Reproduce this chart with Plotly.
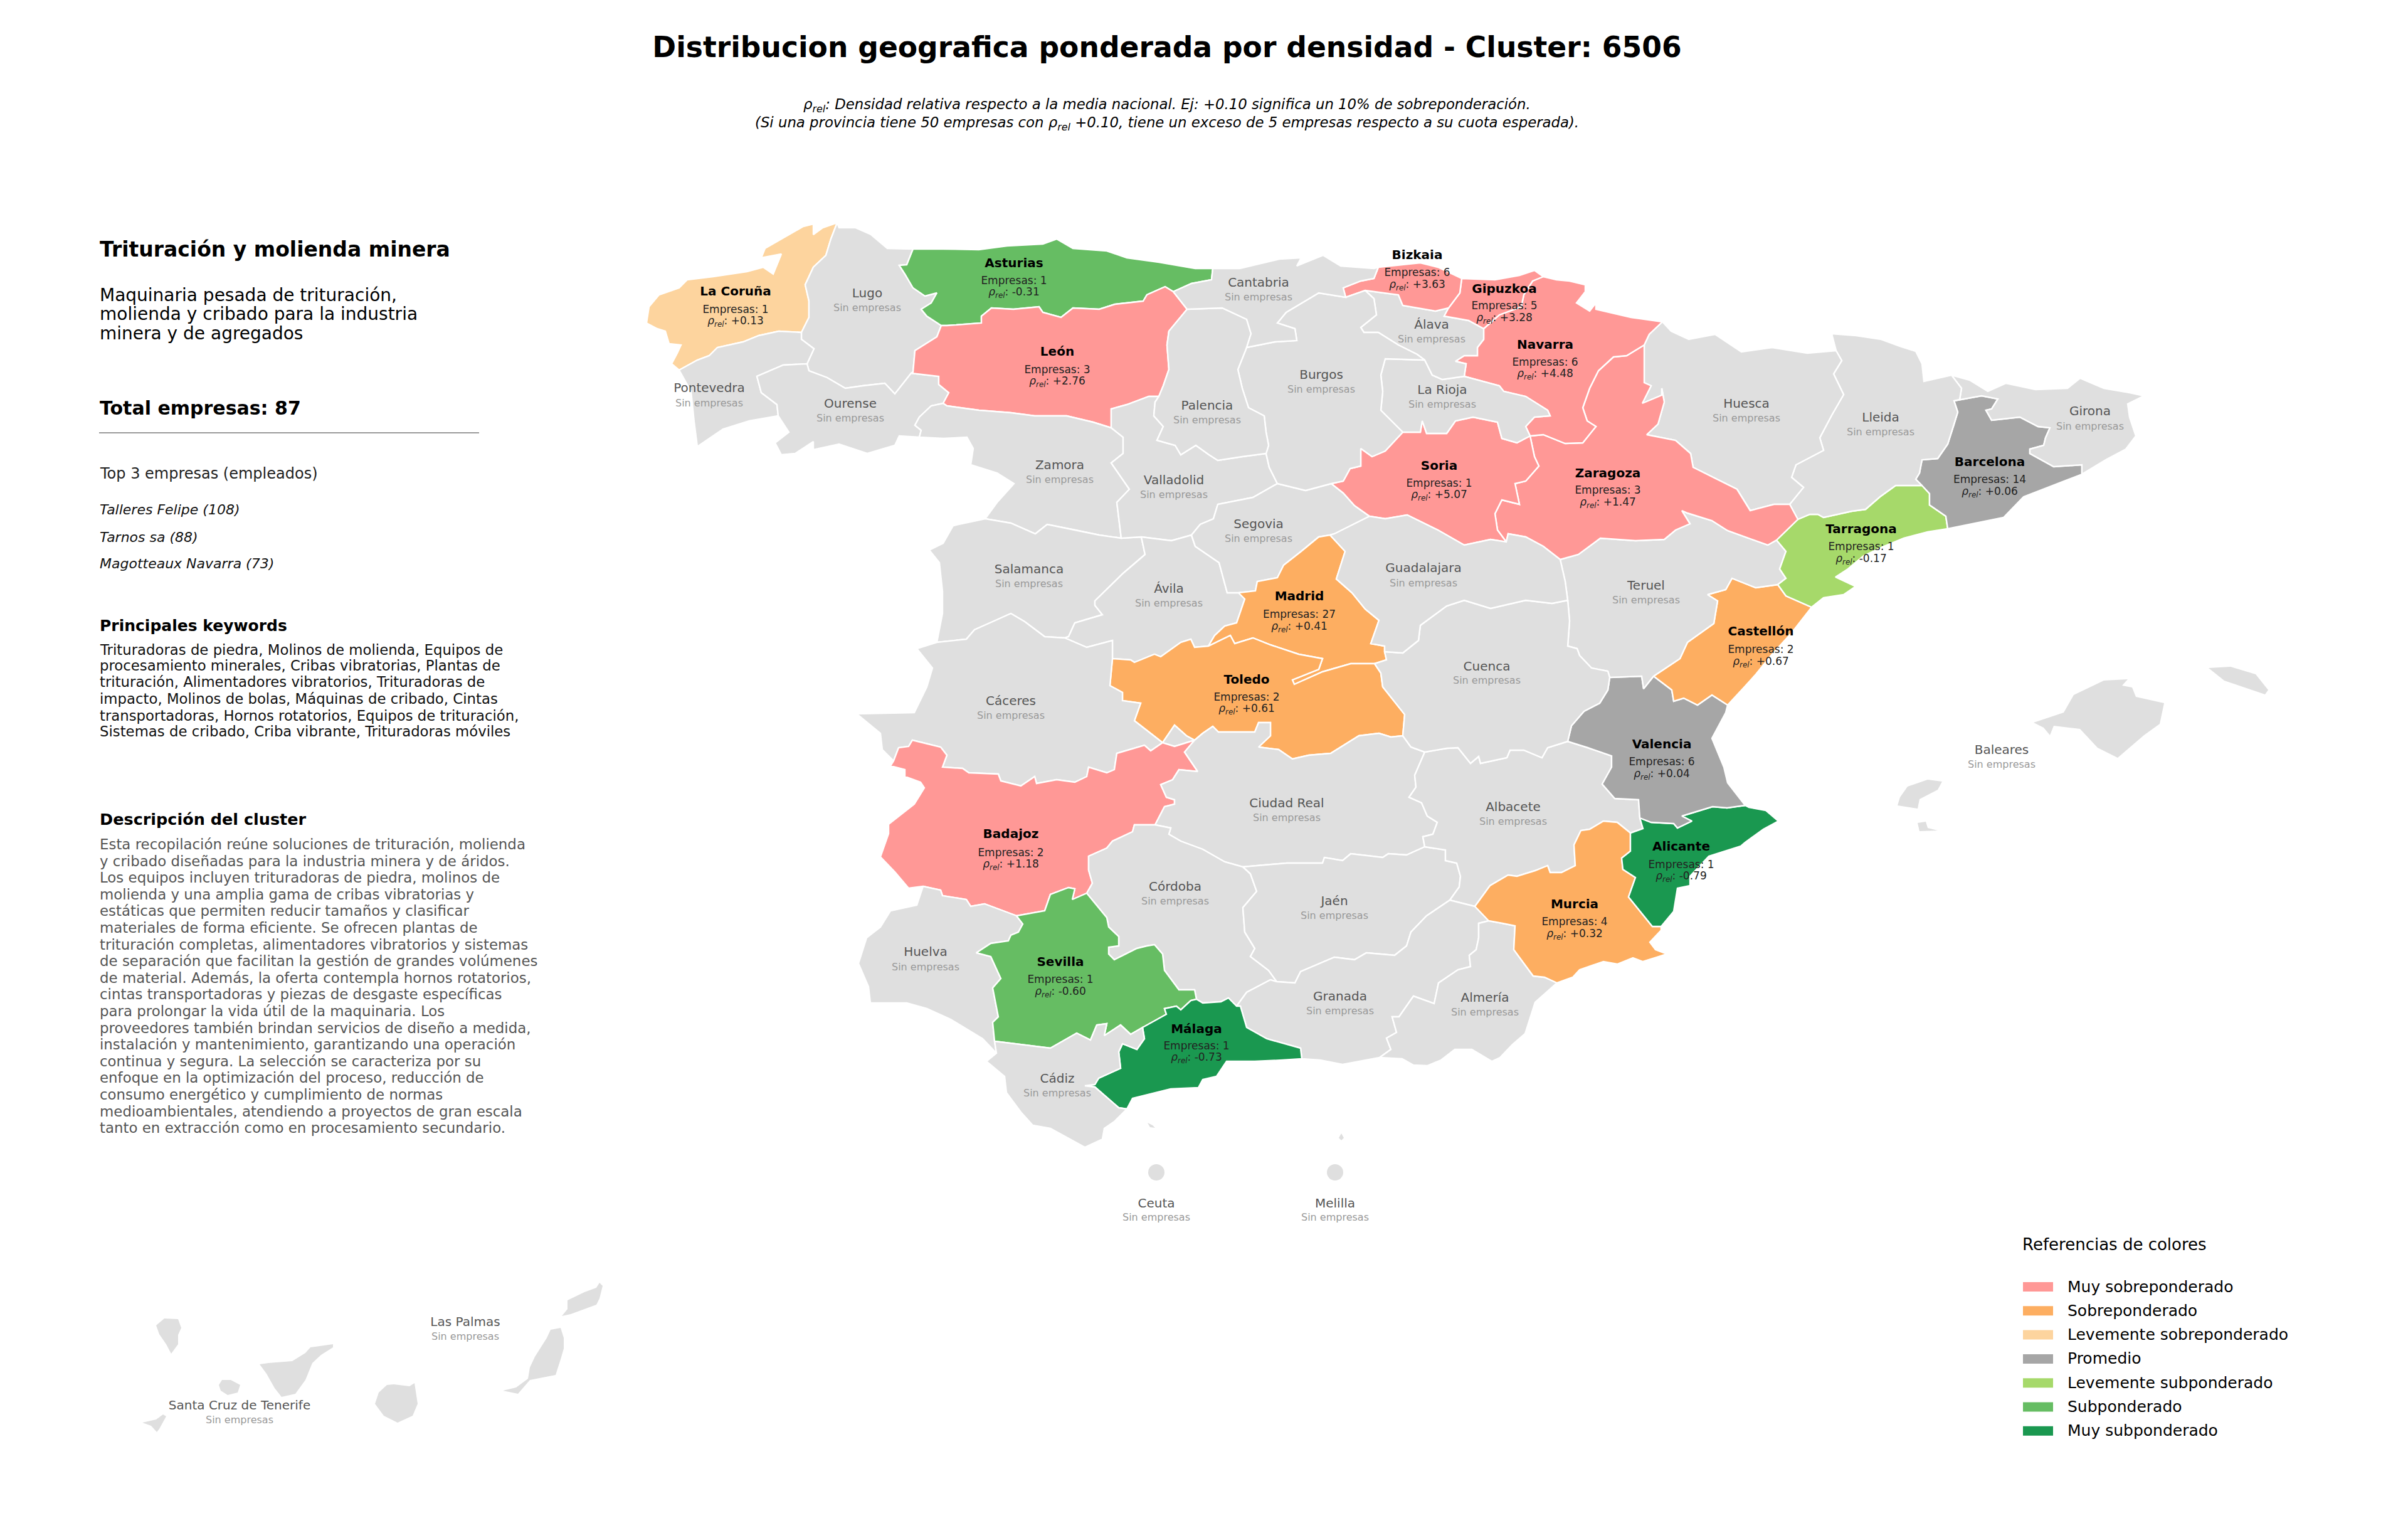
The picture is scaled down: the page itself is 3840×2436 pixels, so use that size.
import plotly.graph_objects as go

# ---------- data ----------
TITLE = "Distribucion geografica ponderada por densidad - Cluster: 6506"
SUB_LINES = ["<i>ρ<sub>rel</sub>: Densidad relativa respecto a la media nacional. Ej: +0.10 significa un 10% de sobreponderación.</i>",
             "<i>(Si una provincia tiene 50 empresas con ρ<sub>rel</sub> +0.10, tiene un exceso de 5 empresas respecto a su cuota esperada).</i>"]
CATEGORIES = ["Muy sobreponderado", "Sobreponderado", "Levemente sobreponderado", "Promedio",
              "Levemente subponderado", "Subponderado", "Muy subponderado"]
CAT_COLORS = ["#FF9896", "#FDAE61", "#FDD49E", "#A6A6A6", "#A6D96A", "#66BD63", "#1A9850"]
EMPTY_COLOR = "#DFDFDF"

# provincia: (empresas, rho, categoria index)
ACTIVE = {
    "La Coruña": (1, 0.13, 2), "Asturias": (1, -0.31, 5), "León": (3, 2.76, 0), "Bizkaia": (6, 3.63, 0),
    "Gipuzkoa": (5, 3.28, 0), "Navarra": (6, 4.48, 0), "Soria": (1, 5.07, 0), "Zaragoza": (3, 1.47, 0),
    "Barcelona": (14, 0.06, 3), "Tarragona": (1, -0.17, 4), "Madrid": (27, 0.41, 1), "Toledo": (2, 0.61, 1),
    "Castellón": (2, 0.67, 1), "Valencia": (6, 0.04, 3), "Badajoz": (2, 1.18, 0), "Alicante": (1, -0.79, 6),
    "Murcia": (4, 0.32, 1), "Sevilla": (1, -0.60, 5), "Málaga": (1, -0.73, 6),
}

# Outline pieces, in map units
C = {
 "cor_lug": [(1335,355),(1325,381),(1317,407),(1297,426),(1284,454),(1290,480),(1290,506),(1278,530)],
 "cor_pon": [(1278,530),(1242,528),(1210,535),(1185,545),(1144,554),(1131,567),(1112,574),(1083,590)],
 "cor_coast": [(1083,590),(1071,580),(1080,563),(1086,550),(1067,548),(1061,528),(1048,524),(1031,515),(1035,489),(1051,470),(1083,459),(1096,446),(1137,441),(1191,433),(1217,426),(1233,437),(1246,405),(1214,411),(1220,396),(1255,376),(1281,361),(1297,357),(1297,374),(1312,363),(1335,355)],
 "lug_coast": [(1335,355),(1338,363),(1364,363),(1389,374),(1415,396),(1456,397)],
 "lug_ast": [(1456,397),(1446,422),(1434,423),(1443,437),(1456,459),(1475,472),(1494,467),(1485,483),(1469,493),(1478,504),(1501,519)],
 "lug_leo": [(1501,519),(1494,537),(1459,559),(1456,593),(1453,595)],
 "lug_our": [(1453,595),(1427,628),(1411,611),(1376,615),(1348,619),(1319,602),(1290,591),(1287,580)],
 "lug_pon": [(1287,580),(1298,556),(1278,541),(1278,530)],
 "pon_our": [(1287,580),(1249,582),(1207,600),(1214,626),(1239,645),(1241,663)],
 "pon_port": [(1241,663),(1195,671),(1153,684),(1112,712)],
 "pon_coast": [(1112,712),(1107,673),(1102,624),(1083,590)],
 "our_leo": [(1453,595),(1497,600),(1497,613),(1513,626),(1504,643)],
 "our_zam": [(1504,643),(1485,647),(1466,665),(1459,678),(1469,686),(1466,697)],
 "our_port": [(1466,697),(1434,695),(1427,710),(1383,723),(1338,708),(1297,717),(1297,704),(1268,723),(1246,725),(1236,706),(1258,689),(1241,663)],
 "ast_coast": [(1456,397),(1504,397),(1561,398),(1606,392),(1663,389),(1685,381),(1711,396),(1765,400),(1797,411),(1848,418),(1906,428),(1934,428)],
 "ast_can": [(1934,428),(1932,446),(1900,452),(1871,465)],
 "ast_leo": [(1871,465),(1858,457),(1829,470),(1823,480),(1778,485),(1753,493),(1711,491),(1692,506),(1663,498),(1657,489),(1616,493),(1581,491),(1565,504),(1565,515),(1510,519),(1501,519)],
 "leo_can": [(1871,465),(1893,493)],
 "leo_pal": [(1893,493),(1864,528),(1861,550),(1864,589),(1855,615),(1848,632)],
 "leo_val": [(1848,632),(1832,632),(1797,645),(1772,652),(1772,682)],
 "leo_zam": [(1772,682),(1743,673),(1701,663),(1650,663),(1612,658),(1561,654),(1510,647),(1504,643)],
 "zam_port": [(1466,697),(1504,699),(1542,697),(1552,715),(1548,741),(1590,754),(1617,771),(1590,801),(1571,827)],
 "zam_sal": [(1571,827),(1612,834),(1651,851),(1670,836),(1715,845),(1753,853),(1788,858)],
 "zam_val": [(1788,858),(1781,801),(1801,780),(1772,738),(1791,723),(1791,697),(1772,682)],
 "sal_port": [(1571,827),(1520,838),(1504,866),(1482,877),(1498,897),(1503,943),(1503,978),(1494,1024)],
 "sal_cac": [(1494,1024),(1541,1019),(1554,1004),(1592,987),(1612,978),(1634,991),(1666,1015),(1698,1017)],
 "sal_val": [(1788,858),(1820,856)],
 "sal_avi": [(1820,856),(1826,884),(1791,914),(1746,958),(1746,965),(1758,980),(1714,993),(1704,1015),(1698,1017)],
 "val_avi": [(1820,856),(1868,862),(1900,853)],
 "cac_avi": [(1698,1017),(1733,1032),(1774,1021),(1774,1050)],
 "avi_tol": [(1774,1050),(1803,1052),(1809,1056),(1841,1043),(1851,1047),(1883,1024),(1899,1019),(1905,1032),(1927,1030)],
 "avi_seg": [(1900,853),(1906,871),(1944,897),(1957,945),(1975,945)],
 "mad_avi": [(1975,945),(1985,955),(1972,993),(1953,998),(1937,1013),(1927,1030)],
 "seg_mad": [(1975,945),(2002,942),(2005,927),(2037,921),(2047,901),(2075,879),(2103,856),(2121,853)],
 "seg_gua": [(2121,853),(2128,851),(2184,823)],
 "sor_seg": [(2123,771),(2142,786),(2160,806),(2184,823)],
 "seg_bur": [(2123,771),(2082,782),(2037,771)],
 "seg_val": [(2037,771),(1998,793),(1942,804),(1935,827),(1914,836),(1900,853)],
 "bur_val": [(2019,723),(2024,745),(2037,771)],
 "pal_val": [(1848,632),(1842,641),(1840,663),(1855,680),(1845,702),(1874,710),(1883,725),(1907,710),(1928,725),(1942,734),(1981,728),(2019,723)],
 "can_pal": [(1893,493),(1949,491),(1988,509),(1995,532),(1988,554)],
 "pal_bur": [(1988,554),(1974,589),(1981,619),(1991,650),(2016,663),(2019,689),(2023,710),(2019,723)],
 "can_bur": [(2146,474),(2103,467),(2051,498),(2037,515),(2065,524),(2068,543),(2033,545),(1988,554)],
 "can_coast": [(1934,428),(1977,428),(2040,413),(2075,411),(2068,424),(2110,407),(2138,424),(2191,428),(2198,426)],
 "can_biz": [(2198,426),(2191,444),(2170,448),(2142,459),(2146,474)],
 "biz_bur": [(2177,463),(2146,474)],
 "biz_coast": [(2198,426),(2265,419),(2293,426),(2331,444)],
 "biz_ala": [(2177,463),(2230,470),(2237,487),(2289,496),(2310,491)],
 "gip_biz": [(2310,491),(2328,467),(2331,444)],
 "gip_coast": [(2331,444),(2384,446),(2423,439),(2447,431),(2461,441)],
 "gip_nav": [(2461,441),(2444,448),(2430,470),(2426,489),(2391,502),(2366,524)],
 "gip_ala": [(2366,524),(2342,511),(2303,504),(2310,491)],
 "bur_ala": [(2177,463),(2191,476),(2195,502),(2170,522),(2175,530),(2198,530),(2230,550),(2260,565),(2272,574)],
 "ala_rio": [(2272,574),(2284,598),(2300,605),(2335,600)],
 "ala_nav": [(2335,600),(2338,580),(2321,576),(2335,567),(2356,567),(2356,554),(2366,541),(2366,524)],
 "bur_rio": [(2272,574),(2209,572),(2202,598),(2205,624),(2202,654),(2237,689)],
 "nav_coast": [(2461,441),(2482,446),(2503,448),(2528,454),(2528,465),(2514,483),(2535,496),(2545,483),(2545,493),(2601,506),(2651,513)],
 "nav_hue": [(2651,513),(2630,533),(2622,550)],
 "nav_zar": [(2622,550),(2594,567),(2573,569),(2549,591),(2535,619),(2524,650),(2531,671),(2545,680),(2524,706),(2496,707),(2461,693),(2440,695)],
 "nav_rio": [(2440,695),(2433,680),(2447,665),(2472,663),(2468,654),(2433,632),(2398,624),(2391,615),(2335,600)],
 "rio_sor": [(2237,689),(2265,689),(2268,671),(2275,691),(2307,691),(2321,671),(2349,665),(2388,673),(2395,699),(2419,706),(2440,695)],
 "sor_bur": [(2237,689),(2209,719),(2188,728),(2170,715),(2170,743),(2153,747),(2142,767),(2123,771)],
 "sor_zar": [(2440,695),(2447,728),(2454,743),(2433,767),(2416,771),(2423,804),(2395,797),(2384,819),(2388,845),(2402,864)],
 "gua_sor": [(2402,864),(2377,860),(2335,869),(2293,845),(2244,821),(2209,827),(2184,823)],
 "gua_zar": [(2488,892),(2461,871),(2433,856),(2405,851),(2402,864)],
 "gua_ter": [(2488,892),(2496,927),(2500,957)],
 "gua_cue": [(2208,1039),(2237,1041),(2262,1021),(2265,997),(2307,966),(2335,957),(2377,970),(2433,957),(2475,962),(2500,957)],
 "mad_gua": [(2121,853),(2145,879),(2131,923),(2156,945),(2177,971),(2199,989),(2186,1026),(2208,1030),(2208,1039)],
 "mad_cue": [(2208,1039),(2211,1052),(2192,1058)],
 "mad_tol": [(1927,1030),(1962,1013),(1969,1026),(1998,1017),(2026,1028),(2071,1043),(2109,1050),(2103,1067),(2061,1084),(2064,1091),(2109,1071),(2154,1058),(2192,1058)],
 "tol_cue": [(2237,1173),(2240,1139),(2205,1095),(2202,1073),(2192,1058)],
 "cac_tol": [(1774,1050),(1770,1093),(1790,1104),(1790,1117),(1819,1121),(1809,1149),(1854,1184)],
 "tol_notch": [(1854,1184),(1873,1156),(1892,1173),(1905,1180)],
 "bad_notch": [(1854,1184),(1873,1190),(1905,1180)],
 "tol_cre": [(1905,1180),(1918,1169),(1934,1158),(1943,1167),(2001,1167),(2007,1152),(2026,1152),(2026,1173),(2007,1191),(2039,1195),(2061,1210),(2087,1204),(2122,1201),(2167,1173),(2199,1169),(2218,1175),(2237,1173)],
 "cue_cre": [(2237,1173),(2250,1191),(2272,1199)],
 "cue_alb": [(2272,1199),(2307,1193),(2325,1192),(2345,1217),(2358,1206),(2361,1217),(2403,1208),(2408,1196),(2430,1196),(2459,1208),(2468,1192),(2500,1182)],
 "alb_cre": [(2272,1199),(2256,1236),(2258,1255),(2247,1271),(2267,1280),(2276,1301),(2292,1311),(2285,1330),(2269,1334),(2272,1350)],
 "jae_alb": [(2272,1350),(2305,1355),(2305,1372),(2323,1376),(2329,1397),(2327,1414),(2312,1435)],
 "jae_cre": [(2272,1350),(2243,1363),(2214,1361),(2205,1367),(2154,1361),(2141,1372),(2112,1367),(2109,1376),(2052,1376),(1982,1382)],
 "jae_cor": [(1982,1382),(1994,1393),(2004,1421),(1982,1447),(1985,1486),(2001,1512),(1994,1525),(2023,1547),(2036,1565)],
 "gra_jae": [(2036,1565),(2065,1567),(2074,1549),(2128,1526),(2160,1530),(2179,1519),(2224,1523),(2243,1508),(2250,1486),(2275,1460),(2312,1435)],
 "alb_gra": [(2352,1445),(2312,1435)],
 "mur_gra": [(2352,1445),(2374,1468)],
 "gra_alm": [(2374,1468),(2358,1472),(2358,1495),(2354,1514),(2343,1523),(2345,1541),(2325,1546),(2294,1567),(2287,1600),(2254,1588),(2231,1621),(2220,1621),(2227,1646),(2211,1655),(2218,1673),(2200,1686)],
 "gra_coast": [(2200,1686),(2141,1697),(2105,1690),(2076,1688)],
 "gra_mal": [(2076,1688),(2074,1671),(2020,1656),(1988,1638),(1978,1604),(1972,1604)],
 "gra_cor": [(1972,1604),(1988,1582),(2026,1562),(2036,1565)],
 "cor_cre": [(1842,1315),(1867,1320),(1864,1330),(1883,1341),(1918,1354),(1953,1374),(1982,1382)],
 "bad_cre": [(1905,1180),(1889,1199),(1910,1230),(1880,1227),(1870,1243),(1851,1251),(1860,1271),(1873,1275),(1873,1282),(1857,1286),(1842,1315)],
 "bad_cor": [(1842,1315),(1809,1315),(1806,1326),(1774,1341),(1765,1352),(1736,1365),(1736,1387),(1742,1408),(1733,1424)],
 "bad_sev": [(1733,1424),(1710,1434),(1714,1417),(1704,1415),(1675,1426),(1666,1452),(1621,1460)],
 "bad_hue": [(1621,1460),(1570,1441),(1548,1445),(1541,1434),(1503,1428),(1500,1419),(1472,1413)],
 "bad_port": [(1472,1413),(1449,1416),(1427,1390),(1404,1366),(1417,1329),(1417,1314),(1458,1282),(1474,1256),(1468,1247),(1443,1238),(1443,1227),(1420,1221),(1425,1213)],
 "cac_bad": [(1425,1213),(1433,1192),(1449,1190),(1455,1180),(1500,1191),(1510,1204),(1503,1223),(1535,1225),(1545,1232),(1592,1234),(1596,1245),(1628,1253),(1650,1238),(1653,1249),(1685,1243),(1714,1247),(1733,1238),(1736,1223),(1765,1232),(1777,1227),(1781,1201),(1825,1188),(1835,1197),(1854,1184)],
 "cac_port": [(1494,1024),(1462,1034),(1487,1065),(1478,1095),(1458,1136),(1366,1138),(1404,1169),(1407,1195),(1425,1213)],
 "cor_sev": [(1733,1424),(1765,1463),(1768,1478),(1784,1493),(1784,1508),(1768,1510),(1768,1521),(1777,1530),(1813,1512),(1829,1508),(1841,1506),(1854,1521),(1857,1547),(1880,1578),(1905,1578),(1908,1593)],
 "cor_mal": [(1908,1593),(1918,1599),(1947,1597),(1959,1591),(1972,1604)],
 "sev_mal": [(1822,1638),(1860,1617),(1857,1608),(1876,1604),(1883,1610),(1899,1595),(1908,1593)],
 "sev_cad": [(1586,1660),(1675,1671),(1717,1647),(1739,1658),(1749,1634),(1765,1632),(1761,1651),(1787,1634),(1803,1649),(1822,1638)],
 "hue_sev": [(1621,1460),(1631,1473),(1624,1486),(1612,1491),(1608,1500),(1580,1504),(1557,1519),(1580,1525),(1596,1560),(1583,1575),(1592,1621),(1583,1630),(1586,1660)],
 "hue_cad": [(1586,1660),(1589,1679)],
 "hue_port": [(1472,1413),(1462,1443),(1420,1452),(1404,1478),(1382,1495),(1369,1536),(1385,1573),(1388,1599)],
 "hue_coast": [(1388,1599),(1446,1599),(1478,1608),(1516,1625),(1567,1656),(1589,1679)],
 "mal_cad": [(1822,1638),(1825,1656),(1813,1673),(1790,1664),(1784,1677),(1787,1703),(1752,1719),(1746,1729),(1730,1731),(1746,1733),(1784,1766),(1797,1768)],
 "mal_coast": [(2076,1688),(2045,1690),(2001,1692),(1956,1692),(1940,1716),(1918,1721),(1911,1734),(1867,1736),(1806,1751),(1797,1768)],
 "cad_coast": [(1589,1679),(1573,1692),(1602,1716),(1605,1742),(1628,1773),(1647,1794),(1675,1799),(1730,1829),(1758,1816),(1761,1799),(1777,1788),(1797,1768)],
 "mur_alb": [(2600,1328),(2579,1311),(2557,1309),(2535,1322),(2521,1324),(2510,1347),(2512,1380),(2490,1391),(2472,1391),(2468,1380),(2448,1388),(2419,1397),(2405,1395),(2376,1412),(2352,1445)],
 "mur_alm": [(2374,1468),(2396,1472),(2416,1476),(2414,1514),(2445,1556),(2463,1558),(2483,1567)],
 "mur_coast": [(2483,1567),(2508,1558),(2519,1546),(2557,1533),(2579,1537),(2604,1527),(2620,1533),(2658,1521),(2640,1514),(2631,1502),(2649,1483),(2649,1477)],
 "alm_coast": [(2483,1567),(2448,1598),(2432,1648),(2412,1665),(2392,1686),(2379,1692),(2347,1673),(2320,1673),(2298,1690),(2276,1699),(2254,1698),(2236,1688),(2200,1686)],
 "ali_mur": [(2649,1477),(2635,1477),(2597,1430),(2608,1399),(2588,1386),(2586,1368),(2600,1357),(2600,1328)],
 "ali_alb": [(2615,1304),(2620,1321),(2600,1328)],
 "val_ali": [(2615,1304),(2633,1311),(2669,1313),(2675,1320),(2698,1309),(2682,1301),(2731,1286),(2754,1288),(2783,1284)],
 "ali_coast": [(2783,1284),(2789,1287),(2816,1292),(2836,1309),(2812,1322),(2783,1343),(2776,1349),(2725,1365),(2695,1397),(2695,1412),(2675,1416),(2669,1453),(2649,1477)],
 "val_alb": [(2500,1182),(2532,1192),(2570,1205),(2570,1223),(2555,1250),(2575,1273),(2613,1275),(2615,1304)],
 "val_cue": [(2567,1080),(2564,1100),(2551,1121),(2526,1134),(2506,1157),(2500,1182)],
 "val_ter": [(2637,1078),(2621,1098),(2618,1078),(2567,1080)],
 "val_coast": [(2755,1124),(2752,1136),(2730,1177),(2749,1223),(2755,1248),(2783,1284)],
 "cas_val": [(2755,1124),(2730,1108),(2707,1124),(2685,1113),(2669,1118),(2666,1100),(2637,1078)],
 "cas_coast": [(2889,968),(2857,1009),(2825,1044),(2800,1075),(2781,1096),(2755,1124)],
 "cas_ter": [(2835,932),(2800,937),(2762,922),(2752,940),(2723,948),(2739,958),(2733,994),(2691,1024),(2679,1050),(2637,1078)],
 "tar_cas": [(2835,932),(2848,950),(2889,968)],
 "tar_ter": [(2833,861),(2848,879),(2838,907),(2848,922),(2835,932)],
 "tar_coast": [(3106,843),(3074,848),(3036,858),(3004,871),(2972,886),(2947,907),(2927,920),(2959,935),(2940,948),(2908,953),(2889,968)],
 "tar_bar": [(3065,774),(3077,787),(3077,805),(3103,823),(3106,843)],
 "lle_tar": [(3065,774),(3023,774),(2998,792),(2975,812),(2953,815),(2908,825),(2899,820),(2886,820),(2867,828)],
 "zar_tar": [(2867,828),(2833,861)],
 "zar_lle": [(2854,804),(2867,828)],
 "zar_ter": [(2833,861),(2819,869),(2755,846),(2730,830),(2691,818),(2682,814),(2695,835),(2672,845),(2654,860),(2608,862),(2552,858),(2517,884),(2488,892)],
 "zar_hue": [(2622,550),(2622,580),(2622,610),(2633,615),(2619,643),(2650,630),(2650,619),(2654,641),(2644,676),(2626,693),(2672,702),(2696,723),(2700,745),(2770,780),(2791,814),(2829,804),(2854,804)],
 "hue_north": [(2651,513),(2665,528),(2693,541),(2735,533),(2777,561),(2826,554),(2882,563),(2928,559)],
 "hue_lle": [(2928,559),(2937,575),(2924,596),(2940,629),(2921,662),(2902,698),(2908,718),(2864,741),(2857,761),(2876,777),(2854,804)],
 "lle_north": [(2928,559),(2921,532),(2960,535),(3000,541),(3030,552),(3055,560),(3065,580),(3068,608),(3112,598)],
 "lle_gir": [(3112,598),(3128,619),(3125,637),(3116,639)],
 "lle_bar": [(3116,639),(3122,657),(3116,677),(3106,708),(3090,731),(3065,733),(3061,754),(3055,764),(3065,774)],
 "bar_gir": [(3116,639),(3160,631),(3186,636),(3176,652),(3167,654),(3176,670),(3221,665),(3250,680),(3269,682),(3262,698),(3259,710),(3237,716),(3237,723),(3275,744),(3320,741),(3320,756)],
 "bar_coast": [(3106,843),(3195,825),(3227,792),(3320,756)],
 "gir_coast": [(3320,756),(3358,733),(3390,716),(3406,695),(3396,665),(3393,644),(3419,631),(3396,626),(3355,619),(3317,603),(3297,619),(3246,621),(3199,611),(3170,624),(3141,606),(3112,598)],
 "cue_ter": [(2500,957),(2503,990),(2500,1030),(2515,1034),(2519,1045),(2538,1065),(2564,1070),(2567,1080)],
 "ademuz": [(2519,1045),(2545,1034),(2557,1050),(2589,1062),(2564,1070),(2538,1065),(2519,1045)],
 "mallorca": [(3243,1152),(3291,1136),(3307,1108),(3355,1085),(3393,1083),(3384,1093),(3400,1096),(3406,1111),(3451,1121),(3444,1154),(3419,1172),(3377,1208),(3345,1192),(3317,1162),(3275,1157),(3269,1172),(3259,1160),(3243,1152)],
 "menorca": [(3522,1065),(3557,1063),(3597,1075),(3617,1100),(3612,1107),(3577,1095),(3547,1085),(3522,1065)],
 "ibiza": [(3042,1254),(3074,1243),(3097,1246),(3090,1259),(3061,1274),(3058,1289),(3026,1284),(3030,1271),(3042,1254)],
 "formentera": [(3058,1312),(3071,1310),(3074,1320),(3090,1324),(3061,1325),(3058,1312)],
 "lapalma": [(249,2113),(262,2102),(284,2103),(289,2117),(284,2128),(284,2143),(273,2158),(265,2143),(254,2127),(249,2113)],
 "tenerife": [(414,2175),(428,2173),(466,2170),(487,2157),(495,2148),(520,2145),(531,2143),(531,2148),(512,2160),(498,2173),(487,2200),(471,2222),(449,2227),(438,2213),(425,2190),(414,2175)],
 "gomera": [(354,2200),(368,2200),(383,2208),(379,2220),(363,2224),(352,2217),(349,2208),(354,2200)],
 "hierro": [(227,2268),(249,2263),(260,2255),(265,2258),(254,2278),(250,2283),(241,2273),(227,2268)],
 "grancanaria": [(617,2208),(628,2207),(653,2210),(661,2205),(666,2238),(658,2257),(634,2268),(612,2257),(598,2238),(604,2220),(617,2208)],
 "fuerteventura": [(878,2120),(894,2117),(899,2133),(899,2150),(894,2167),(886,2192),(845,2200),(826,2222),(802,2217),(823,2212),(842,2198),(845,2180),(853,2163),(872,2133),(878,2120)],
 "lanzarote": [(905,2073),(932,2060),(951,2053),(956,2045),(961,2050),(956,2070),(951,2080),(910,2095),(896,2098),(905,2087),(905,2073)],
 "ceuta_real": [(1830,1790),(1838,1794),(1842,1798),(1834,1797),(1830,1790)],
 "melilla_real": [(2139,1807),(2143,1814),(2139,1818),(2135,1814),(2139,1807)],
}

RINGS = {
 "La Coruña": [["cor_lug","cor_pon","cor_coast"]],
 "Lugo": [["lug_coast","lug_ast","lug_leo","lug_our","lug_pon","-cor_lug"]],
 "Pontevedra": [["-cor_pon","-lug_pon","pon_our","pon_port","pon_coast"]],
 "Ourense": [["-lug_our","our_leo","our_zam","our_port","-pon_our"]],
 "Asturias": [["ast_coast","ast_can","ast_leo","-lug_ast"]],
 "León": [["-ast_leo","leo_can","leo_pal","leo_val","leo_zam","-our_leo","-lug_leo"]],
 "Zamora": [["zam_port","zam_sal","zam_val","leo_zam","our_zam"]],
 "Salamanca": [["sal_port","sal_cac","-sal_avi","-sal_val","-zam_sal"]],
 "Valladolid": [["-zam_val","sal_val","val_avi","-seg_val","-bur_val","-pal_val","leo_val"]],
 "Ávila": [["sal_avi","cac_avi","avi_tol","-mad_avi","-avi_seg","-val_avi"]],
 "Segovia": [["avi_seg","seg_mad","seg_gua","-sor_seg","seg_bur","seg_val"]],
 "Madrid": [["mad_avi","mad_tol","-mad_cue","-mad_gua","-seg_mad"]],
 "Toledo": [["cac_tol","tol_notch","tol_cre","tol_cue","-mad_tol","-avi_tol"]],
 "Cáceres": [["cac_port","cac_bad","-cac_tol","-cac_avi","-sal_cac"],["tol_notch","-bad_notch"]],
 "Badajoz": [["cac_bad","bad_notch","bad_cre","bad_cor","bad_sev","bad_hue","bad_port"]],
 "Ciudad Real": [["-tol_cre","bad_cre","cor_cre","-jae_cre","-alb_cre","-cue_cre"]],
 "Córdoba": [["-bad_cor","cor_cre","jae_cor","-gra_cor","-cor_mal","-cor_sev"]],
 "Jaén": [["jae_cre","jae_cor","gra_jae","-jae_alb"]],
 "Albacete": [["cue_alb","val_alb","ali_alb","mur_alb","alb_gra","-jae_alb","-alb_cre"]],
 "Granada": [["gra_cor","gra_jae","-alb_gra","mur_gra","gra_alm","gra_coast","gra_mal"]],
 "Almería": [["-gra_alm","mur_alm","alm_coast"]],
 "Murcia": [["mur_alb","mur_gra","mur_alm","mur_coast","ali_mur"]],
 "Alicante": [["val_ali","ali_coast","ali_mur","-ali_alb"]],
 "Valencia": [["cas_val","val_ter","val_cue","val_alb","val_ali","-val_coast"],["ademuz"]],
 "Castellón": [["cas_coast","cas_val","-cas_ter","tar_cas"]],
 "Teruel": [["zar_ter","gua_ter","cue_ter","-val_ter","-cas_ter","-tar_ter"]],
 "Tarragona": [["tar_ter","tar_cas","-tar_coast","-tar_bar","lle_tar","zar_tar"]],
 "Barcelona": [["lle_bar","tar_bar","bar_coast","-bar_gir"]],
 "Girona": [["bar_gir","gir_coast","lle_gir"]],
 "Lleida": [["hue_lle","zar_lle","-lle_tar","-lle_bar","-lle_gir","-lle_north"]],
 "Huesca": [["hue_north","hue_lle","-zar_hue","-nav_hue"]],
 "Zaragoza": [["zar_hue","zar_lle","zar_tar","zar_ter","gua_zar","-sor_zar","-nav_zar"]],
 "Navarra": [["nav_coast","nav_hue","nav_zar","nav_rio","ala_nav","-gip_nav"]],
 "Soria": [["rio_sor","sor_zar","gua_sor","-sor_seg","-sor_bur"]],
 "La Rioja": [["bur_rio","rio_sor","nav_rio","-ala_rio"]],
 "Álava": [["biz_ala","-gip_ala","-ala_nav","-ala_rio","-bur_ala"]],
 "Gipuzkoa": [["gip_coast","gip_nav","gip_ala","gip_biz"]],
 "Bizkaia": [["biz_coast","-gip_biz","-biz_ala","biz_bur","-can_biz"]],
 "Burgos": [["pal_bur","bur_val","-seg_bur","-sor_bur","-bur_rio","-bur_ala","biz_bur","can_bur"]],
 "Palencia": [["can_pal","pal_bur","-pal_val","-leo_pal"]],
 "Cantabria": [["can_coast","can_biz","can_bur","-can_pal","-leo_can","-ast_can"]],
 "Cuenca": [["gua_cue","cue_ter","val_cue","-cue_alb","-cue_cre","tol_cue","-mad_cue"]],
 "Guadalajara": [["mad_gua","gua_cue","-gua_ter","gua_zar","gua_sor","-seg_gua"]],
 "Huelva": [["-bad_hue","hue_sev","hue_cad","-hue_coast","-hue_port"]],
 "Sevilla": [["cor_sev","-sev_mal","-sev_cad","-hue_sev","-bad_sev"]],
 "Málaga": [["sev_mal","cor_mal","-gra_mal","mal_coast","-mal_cad"]],
 "Cádiz": [["sev_cad","mal_cad","-cad_coast","-hue_cad"]],
 "Baleares": [["mallorca"],["menorca"],["ibiza"],["formentera"]],
 "Santa Cruz de Tenerife": [["lapalma"],["tenerife"],["gomera"],["hierro"]],
 "Las Palmas": [["grancanaria"],["fuerteventura"],["lanzarote"]],
 "Ceuta_real": [["ceuta_real"]],
 "Melilla_real": [["melilla_real"]],
}

# Label anchors: provincia -> (x, y name, y line 2, y line 3)
LABELS = {
 "La Coruña": (1173,464,493,511), "Lugo": (1383,467,490), "Asturias": (1617,419,447,465), "León": (1686,560,589,607),
 "Pontevedra": (1131,618,642), "Ourense": (1356,643,666), "Palencia": (1925,646,669), "Zamora": (1690,741,764),
 "Valladolid": (1872,765,788), "Salamanca": (1641,907,930), "Ávila": (1864,938,961), "Segovia": (2007,835,858),
 "Cantabria": (2007,450,473), "Bizkaia": (2260,406,434,453), "Gipuzkoa": (2399,460,487,506), "Álava": (2283,517,540),
 "Navarra": (2464,549,577,595), "Burgos": (2107,597,620), "La Rioja": (2300,621,644), "Huesca": (2785,643,666),
 "Lleida": (2999,665,688), "Girona": (3333,655,679), "Barcelona": (3173,736,764,783), "Soria": (2295,742,770,788),
 "Zaragoza": (2564,754,781,800), "Guadalajara": (2270,905,929), "Teruel": (2625,933,956), "Tarragona": (2968,843,871,890),
 "Madrid": (2072,950,979,998), "Toledo": (1988,1083,1111,1129), "Cáceres": (1612,1117,1140), "Cuenca": (2371,1062,1084),
 "Castellón": (2808,1006,1035,1054), "Valencia": (2650,1186,1214,1233), "Baleares": (3192,1195,1218),
 "Ciudad Real": (2052,1280,1303), "Badajoz": (1612,1329,1359,1377), "Córdoba": (1874,1413,1436), "Jaén": (2128,1436,1459),
 "Albacete": (2413,1286,1309), "Alicante": (2681,1349,1378,1396), "Murcia": (2511,1441,1469,1488), "Almería": (2368,1590,1613),
 "Huelva": (1476,1517,1541), "Sevilla": (1691,1533,1561,1580), "Granada": (2137,1588,1611), "Málaga": (1908,1640,1667,1685),
 "Cádiz": (1686,1719,1742), "Ceuta": (1844,1918,1940), "Melilla": (2129,1918,1940), "Las Palmas": (742,2107,2130),
 "Santa Cruz de Tenerife": (382,2240,2263),
}
CIRCLES = {"Ceuta": (1844, 1869), "Melilla": (2129, 1869)}

PANEL_TITLE = "Trituración y molienda minera"
PANEL_SUB = ["Maquinaria pesada de trituración,", "molienda y cribado para la industria", "minera y de agregados"]
TOTAL = "Total empresas: 87"
TOP_HEAD = "Top 3 empresas (empleados)"
TOP3 = ["Talleres Felipe (108)", "Tarnos sa (88)", "Magotteaux Navarra (73)"]
KW_HEAD = "Principales keywords"
KEYWORDS = ["Trituradoras de piedra, Molinos de molienda, Equipos de",
            "procesamiento minerales, Cribas vibratorias, Plantas de",
            "trituración, Alimentadores vibratorios, Trituradoras de",
            "impacto, Molinos de bolas, Máquinas de cribado, Cintas",
            "transportadoras, Hornos rotatorios, Equipos de trituración,",
            "Sistemas de cribado, Criba vibrante, Trituradoras móviles"]
DESC_HEAD = "Descripción del cluster"
DESCRIPTION = ["Esta recopilación reúne soluciones de trituración, molienda",
 "y cribado diseñadas para la industria minera y de áridos.",
 "Los equipos incluyen trituradoras de piedra, molinos de",
 "molienda y una amplia gama de cribas vibratorias y",
 "estáticas que permiten reducir tamaños y clasificar",
 "materiales de forma eficiente. Se ofrecen plantas de",
 "trituración completas, alimentadores vibratorios y sistemas",
 "de separación que facilitan la gestión de grandes volúmenes",
 "de material. Además, la oferta contempla hornos rotatorios,",
 "cintas transportadoras y piezas de desgaste específicas",
 "para prolongar la vida útil de la maquinaria. Los",
 "proveedores también brindan servicios de diseño a medida,",
 "instalación y mantenimiento, garantizando una operación",
 "continua y segura. La selección se caracteriza por su",
 "enfoque en la optimización del proceso, reducción de",
 "consumo energético y cumplimiento de normas",
 "medioambientales, atendiendo a proyectos de gran escala",
 "tanto en extracción como en procesamiento secundario."]
LEGEND_TITLE = "Referencias de colores"

# ---------- build ----------
FONT = "DejaVu Sans"
W, H = 3840, 2436
LABEL_SHIFT = 2


def piece(name):
    return C[name[1:]][::-1] if name.startswith("-") else C[name]


def ring_xy(names):
    pts = []
    for i, n in enumerate(names):
        p = piece(n)
        nxt = piece(names[(i + 1) % len(names)])
        if p[-1] != nxt[0]:
            raise ValueError(f"gap {n} -> {names[(i + 1) % len(names)]}: {p[-1]} {nxt[0]}")
        pts.extend(p if not pts else p[1:])
    return pts


fig = go.Figure()
for prov, rings in RINGS.items():
    xs, ys = [], []
    for r in rings:
        pts = ring_xy(r)
        xs += [p[0] for p in pts] + [None]
        ys += [p[1] for p in pts] + [None]
    color = CAT_COLORS[ACTIVE[prov][2]] if prov in ACTIVE else EMPTY_COLOR
    island = prov in ("Baleares", "Santa Cruz de Tenerife", "Las Palmas", "Ceuta_real", "Melilla_real")
    fig.add_trace(go.Scatter(x=xs, y=ys, mode="lines", fill="toself", fillcolor=color, name=prov,
                             line=dict(color=color if island else "white", width=0 if island else 2.4),
                             hoverinfo="skip", showlegend=False))

fig.add_trace(go.Scatter(x=[v[0] for v in CIRCLES.values()], y=[v[1] for v in CIRCLES.values()],
                         mode="markers", marker=dict(size=26, color=EMPTY_COLOR), hoverinfo="skip", showlegend=False))


def text_trace(xs, ys, texts, size, color):
    fig.add_trace(go.Scatter(x=xs, y=[v + LABEL_SHIFT for v in ys], text=texts, mode="text", textposition="middle center",
                             textfont=dict(family=FONT, size=size, color=color),
                             hoverinfo="skip", showlegend=False, cliponaxis=False))


for style in ("empty", "active"):
    names = [n for n in LABELS if (n in ACTIVE) == (style == "active")]
    if style == "empty":
        text_trace([LABELS[n][0] for n in names], [LABELS[n][1] for n in names], names, 20, "#555555")
        text_trace([LABELS[n][0] for n in names], [LABELS[n][2] for n in names], ["Sin empresas"] * len(names), 16, "#999999")
    else:
        text_trace([LABELS[n][0] for n in names], [LABELS[n][1] for n in names], [f"<b>{n}</b>" for n in names], 20, "#000000")
        text_trace([LABELS[n][0] for n in names], [LABELS[n][2] for n in names],
                   [f"Empresas: {ACTIVE[n][0]}" for n in names], 17, "#222222")
        text_trace([LABELS[n][0] for n in names], [LABELS[n][3] for n in names],
                   [f"<i>ρ<sub>rel</sub></i>: {ACTIVE[n][1]:+.2f}" for n in names], 17, "#222222")

ann = []


def note(x, y, text, size, color="#000000", anchor="left"):
    ann.append(dict(x=x, y=y, xref="x", yref="y", text=text, showarrow=False, xanchor=anchor, yanchor="middle",
                    align=anchor, font=dict(family=FONT, size=size, color=color)))


LEFT = 157
note(LEFT, 397, f"<b>{PANEL_TITLE}</b>", 33)
for y, t in zip((470, 500, 531), PANEL_SUB):
    note(LEFT, y, t, 28)
note(LEFT, 650, f"<b>{TOTAL}</b>", 30)
note(LEFT, 755, TOP_HEAD, 24, "#222222")
for y, t in zip((812, 856, 898), TOP3):
    note(LEFT, y, f"<i>{t}</i>", 22, "#111111")
note(LEFT, 997, f"<b>{KW_HEAD}</b>", 25)
for y, t in zip((1036, 1061, 1087, 1114, 1141, 1166), KEYWORDS):
    note(LEFT, y, t, 22.8, "#111111")
note(LEFT, 1306, f"<b>{DESC_HEAD}</b>", 25.5)
for i, t in enumerate(DESCRIPTION):
    note(LEFT, 1346 + i * 26.6, t, 22.9, "#555555")

for y, t in zip((168, 197), SUB_LINES):
    note(1861, y, t, 22.8, "#000000", "center")

note(3223, 1984, LEGEND_TITLE, 26)
shapes = [dict(type="line", x0=158, x1=764, y0=690, y1=690, xref="x", yref="y", line=dict(color="#999999", width=2))]
for i, (cat, col) in enumerate(zip(CATEGORIES, CAT_COLORS)):
    y0 = 2044 + i * 38.3
    shapes.append(dict(type="rect", x0=3226, x1=3274, y0=y0, y1=y0 + 15, xref="x", yref="y", fillcolor=col, line=dict(width=0)))
    note(3295, y0 + 7, cat, 25)

fig.update_layout(
    width=W, height=H, margin=dict(l=0, r=0, t=0, b=0), paper_bgcolor="white", plot_bgcolor="white",
    title=dict(text=f"<b>{TITLE}</b>", x=1861 / W, xanchor="center", y=1 - 75 / H, yanchor="middle",
               font=dict(family=FONT, size=45.6, color="#000000")),
    xaxis=dict(range=[0, W], visible=False, fixedrange=True),
    yaxis=dict(range=[H, 0], visible=False, fixedrange=True),
    showlegend=False, annotations=ann, shapes=shapes,
)
fig.write_html("out.html", post_script="document.body.style.margin='0';", config={"displayModeBar": False})
